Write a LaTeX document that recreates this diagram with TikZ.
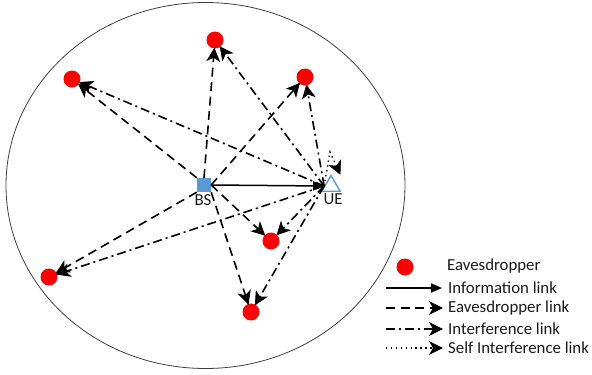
\documentclass[tikz,border=0pt]{standalone}
\usepackage{fontspec}
\setmainfont{Carlito}
\usetikzlibrary{arrows.meta,shapes.geometric,decorations.markings}
\definecolor{bsblue}{HTML}{5B9BD5}
\definecolor{evred}{HTML}{FF0000}
\begin{document}
\begin{tikzpicture}[x=1pt,y=-1pt,
  eve/.style={circle,fill=evred,draw=none,minimum size=17pt,inner sep=0pt},
  arrowend/.style={postaction={decorate,decoration={markings,mark=at position 1 with {\filldraw[solid,black,line width=0.8pt,line join=miter] (0pt,0pt) -- (-12pt,6pt) -- (-8.5pt,0pt) -- (-12pt,-6pt) -- cycle;}}}},
  info/.style={line width=1.5pt,-{Triangle[length=11pt,width=9pt]}},
  evl/.style={line width=1.6pt,dash pattern=on 9pt off 5.5pt,arrowend},
  intl/.style={line width=1.6pt,dash pattern=on 9pt off 4pt on 2pt off 4pt,arrowend},
  selfl/.style={line width=1.4pt,dash pattern=on 1.4pt off 3.5pt,arrowend},
  lbl/.style={font=\fontsize{16.8}{19}\selectfont,text=black!90,inner sep=0pt}
]
\useasboundingbox (0,0) rectangle (592,375);
% boundary
\node[ellipse,draw=black!75,line width=0.8pt,minimum width=399pt,minimum height=366pt,inner sep=0pt] (cell) at (205.5,185.5) {};
% nodes
\node[rectangle,fill=bsblue,minimum size=14pt,inner sep=0pt] (BS) at (204,185) {};
\node[regular polygon,regular polygon sides=3,draw=bsblue,fill=white,line width=1.4pt,minimum size=21pt,inner sep=0pt] (UE) at (331,186) {};
\node[lbl,anchor=north] (BSl) at (203,194) {BS};
\node[lbl,anchor=north] (UEl) at (333,194) {UE};
\node[eve] (E1) at (215,40) {};
\node[eve] (E2) at (305,77) {};
\node[eve] (E3) at (72,79) {};
\node[eve] (E4) at (271,241) {};
\node[eve] (E5) at (49,277) {};
\node[eve] (E6) at (251,312) {};
% eavesdropper links
\draw[evl] (BS.north) -- (E1);
\draw[evl] (BS.east) -- (E2);
\draw[evl] (BS.north west) -- (E3);
\draw[evl] (BS.east) -- (E4);
\draw[evl] (BS.south west) -- (E5);
\draw[evl] (BS.south east) -- (E6);
% interference links
\draw[intl] (UE.west) -- (E1);
\draw[intl] (UE.west) -- (E2);
\draw[intl] (UE.west) -- (E3);
\draw[intl] (UE.west) -- (E4);
\draw[intl] (UE.west) -- (E5);
\draw[intl] (UE.west) -- (E6);
% information link
\draw[info] (BS.east) -- (UE.west);
% self interference
\coordinate (sp) at (330,152);
\coordinate (se) at (340,174);
\draw[selfl] (UE.west) -- (sp) -- (se);
% legend
\node[eve] (Le) at (405,267) {};
\node[lbl,anchor=west] (Let) at (447,266) {Eavesdropper};
\coordinate (L1a) at (386,288); \coordinate (L1b) at (442,288);
\coordinate (L2a) at (386,308); \coordinate (L2b) at (442,308);
\coordinate (L3a) at (386,329); \coordinate (L3b) at (442,329);
\coordinate (L4a) at (386,348); \coordinate (L4b) at (442,348);
\draw[info] (L1a) -- (L1b);
\draw[evl] (L2a) -- (L2b);
\draw[intl] (L3a) -- (L3b);
\draw[selfl] (L4a) -- (L4b);
\node[lbl,anchor=west] (L1t) at (448,288) {Information link};
\node[lbl,anchor=west] (L2t) at (448,308) {Eavesdropper link};
\node[lbl,anchor=west] (L3t) at (448,329) {Interference link};
\node[lbl,anchor=west] (L4t) at (448,348) {Self Interference link};
\end{tikzpicture}
\end{document}
